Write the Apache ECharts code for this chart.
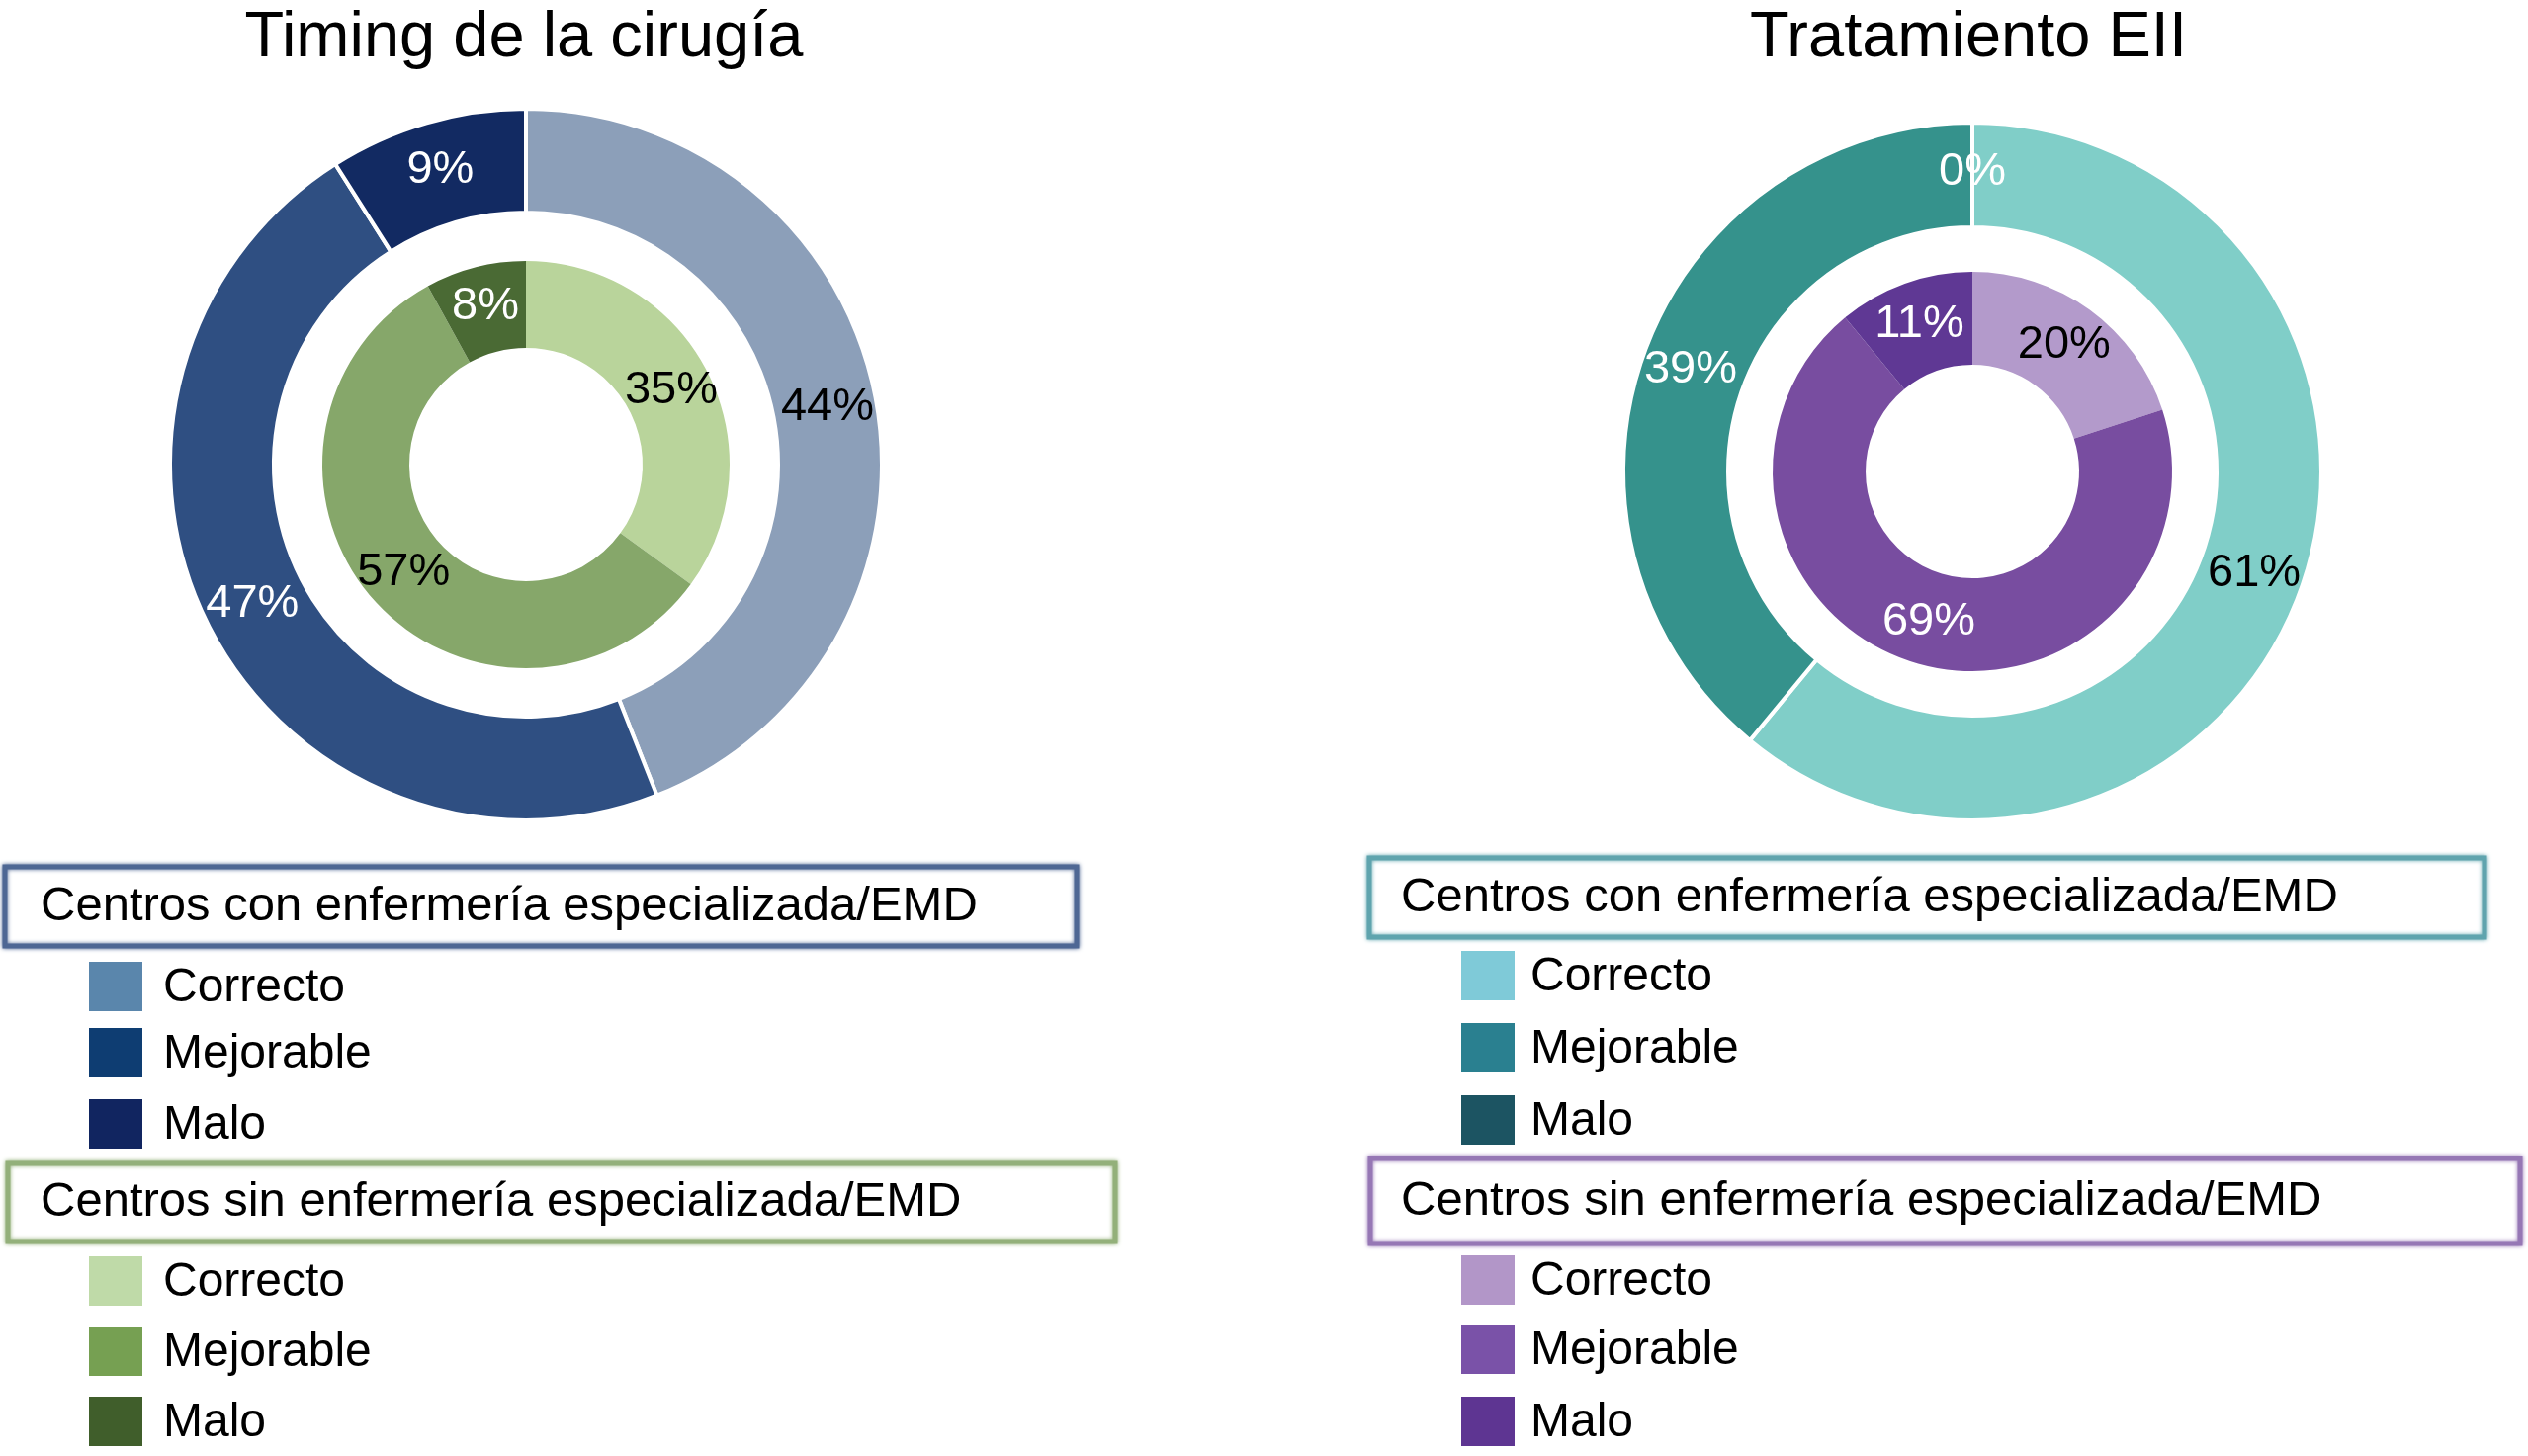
<!DOCTYPE html>
<html><head><meta charset="utf-8">
<script src="https://cdn.jsdelivr.net/npm/echarts@6/dist/echarts.min.js"></script>
<style>html,body{margin:0;padding:0;background:#fff}#c{width:2557px;height:1473px}</style>
</head><body><div id="c"></div>
<script>
// ---- data ----
const categories = ['Correcto', 'Mejorable', 'Malo'];
const panelTitles = ['Timing de la cirugía', 'Tratamiento EII'];
const groupLabels = ['Centros con enfermería especializada/EMD', 'Centros sin enfermería especializada/EMD'];
const timingCon = [44, 47, 9];
const timingSin = [35, 57, 8];
const tratCon = [61, 39, 0];
const tratSin = [20, 69, 11];

// ---- styles ----
const FONT = '"Liberation Sans", Arial, Helvetica, sans-serif';
const sliceColors = {
  timingCon: ['#8c9fb9', '#2f4f82', '#122a62'],
  timingSin: ['#b9d49b', '#86a76a', '#4a6a34'],
  tratCon: ['#80cec8', '#35928c', '#1c5462'],
  tratSin: ['#b39acb', '#784da0', '#5f3894']
};
const labelColors = {
  timingCon: ['#000', '#fff', '#fff'],
  timingSin: ['#000', '#000', '#fff'],
  tratCon: ['#000', '#fff', '#fff'],
  tratSin: ['#000', '#fff', '#fff']
};
const legendSwatch = [
  [['#5a86ac', '#0e3d72', '#112560'], ['#bfdaa8', '#76a052', '#405e2b']],
  [['#7fcad8', '#2a8090', '#1c5462'], ['#b296c8', '#7a52a8', '#5e3592']]
];
const boxStroke = [['#4e6794', '#93b07a'], ['#5fa4ae', '#9677b5']];

function pieData(vals, key) {
  return categories.map((n, i) => ({
    name: n, value: vals[i],
    itemStyle: { color: sliceColors[key][i] },
    label: { color: labelColors[key][i] }
  }));
}
function pie(vals, key, center, radius, border) {
  return {
    type: 'pie', center: center, radius: radius, startAngle: 90, clockwise: true,
    avoidLabelOverlap: false, silent: true, animation: false,
    itemStyle: { borderColor: '#fff', borderWidth: border },
    label: { show: true, position: 'inside', formatter: '{c}%', fontFamily: FONT, fontSize: 47 },
    labelLine: { show: false },
    data: pieData(vals, key)
  };
}

// ---- legend graphics ----
const panels = [
  { boxes: [[5, 877, 1084, 80], [8, 1177, 1120, 79]], textX: 41, swX: 90, itemX: 165, itemY: [[998, 1065, 1137], [1296, 1367, 1438]] },
  { boxes: [[1385, 868, 1128, 80], [1386, 1172, 1163, 86]], textX: 1417, swX: 1478, itemX: 1548, itemY: [[987, 1060, 1133], [1295, 1365, 1438]] }
];
const graphic = [];
panels.forEach((p, pi) => {
  p.boxes.forEach((b, gi) => {
    graphic.push({ type: 'rect', shape: { x: b[0], y: b[1], width: b[2], height: b[3] },
      style: { fill: '#fff', stroke: boxStroke[pi][gi], lineWidth: 5, shadowBlur: 4, shadowColor: boxStroke[pi][gi] } });
    graphic.push({ type: 'text', x: p.textX, y: b[1] + b[3] / 2,
      style: { text: groupLabels[gi], fill: '#000', font: '49px ' + FONT, textVerticalAlign: 'middle' } });
    categories.forEach((c, ci) => {
      const cy = p.itemY[gi][ci];
      graphic.push({ type: 'rect', shape: { x: p.swX, y: cy - 25, width: 54, height: 50 },
        style: { fill: legendSwatch[pi][gi][ci] } });
      graphic.push({ type: 'text', x: p.itemX, y: cy + 2,
        style: { text: c, fill: '#000', font: '48px ' + FONT, textVerticalAlign: 'middle' } });
    });
  });
});

const chart = echarts.init(document.getElementById('c'), null, { renderer: 'canvas' });
chart.setOption({
  backgroundColor: '#fff',
  animation: false,
  title: [
    { text: panelTitles[0], left: 525, top: 2, textAlign: 'center', textStyle: { fontFamily: FONT, fontSize: 65, fontWeight: 'normal', color: '#000' } },
    { text: panelTitles[1], left: 1986, top: 2, textAlign: 'center', textStyle: { fontFamily: FONT, fontSize: 65, fontWeight: 'normal', color: '#000' } }
  ],
  series: [
    pie(timingCon, 'timingCon', [532, 470], [255, 360], 4),
    pie(timingSin, 'timingSin', [532, 470], [118, 206], 0),
    pie(tratCon, 'tratCon', [1995, 477], [247, 353], 4),
    pie(tratSin, 'tratSin', [1995, 477], [108, 202], 0)
  ],
  graphic: graphic
});
</script></body></html>
